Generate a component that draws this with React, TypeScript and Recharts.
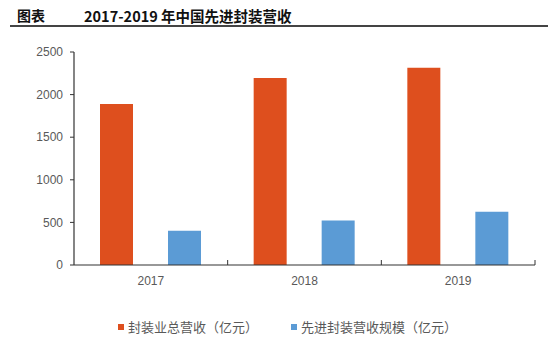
import { BarChart, Bar, XAxis, YAxis } from 'recharts';

// 2017-2019 China packaging revenue (亿元)
const years = ['2017', '2018', '2019'];
const totalRevenue = [1890, 2195, 2315];
const advancedRevenue = [403, 522, 624];
const yTicks = [0, 500, 1000, 1500, 2000, 2500];

const ORANGE = '#DE4F1E';
const BLUE = '#5B9BD5';
const INK = '#595959';
const CJK = '"Noto Sans CJK SC", "Noto Sans", sans-serif';
const LATIN = 'Liberation Sans, Arial, sans-serif';

const W = 550;
const H = 346;
const M = { top: 52, right: 15, bottom: 56, left: 0 };
const Y_W = 74;
const TICK_SIZE = 6;
const TICK_MARGIN = 5;
const band = (W - M.right - M.left - Y_W) / years.length;

const rows = years.map((y, i) => ({ year: y, total: totalRevenue[i], advanced: advancedRevenue[i] }));

// year label plus a small upward tick at the right edge of each category
function YearTick(props: any) {
  const { x, y, payload } = props;
  const axisY = y - TICK_SIZE - TICK_MARGIN;
  const right = x + band / 2;
  return (
    <g>
      <line x1={right} x2={right} y1={axisY} y2={axisY - 5} stroke="#333" />
      <text x={x} y={y} dy="0.71em" textAnchor="middle" fontSize={12} fill={INK} fontFamily={LATIN}>
        {payload.value}
      </text>
    </g>
  );
}

export default function App() {
  return (
    <div style={{ position: 'fixed', left: 0, top: 0, width: W, height: H, background: '#fff', overflow: 'hidden' }}>
      {/* title bar */}
      <div style={{ position: 'absolute', left: 17, top: 5, fontFamily: CJK, fontWeight: 700, fontSize: 14, color: '#111', whiteSpace: 'nowrap' }}>
        图表
      </div>
      <div style={{ position: 'absolute', left: 84, top: 5, fontFamily: CJK, fontWeight: 700, fontSize: 14.5, color: '#111', whiteSpace: 'nowrap' }}>
        2017-2019 年中国先进封装营收
      </div>
      <div style={{ position: 'absolute', left: 10, top: 25, width: 538, height: 2, background: '#444' }} />

      <div style={{ position: 'absolute', left: 0, top: 0 }}>
        <BarChart width={W} height={H} data={rows} margin={M} barCategoryGap={26} barGap={35}>
          <XAxis
            dataKey="year"
            height={25}
            tickLine={false}
            tickSize={TICK_SIZE}
            tickMargin={TICK_MARGIN}
            axisLine={{ stroke: '#333', strokeWidth: 1.2 }}
            tick={<YearTick />}
          />
          <YAxis
            width={Y_W}
            domain={[0, 2500]}
            ticks={yTicks}
            tickSize={4}
            tickMargin={7}
            axisLine={{ stroke: '#333', strokeWidth: 1.2 }}
            tickLine={{ stroke: '#333' }}
            tick={{ fontSize: 12, fill: INK, fontFamily: LATIN }}
          />
          <Bar dataKey="total" fill={ORANGE} barSize={33} isAnimationActive={false} />
          <Bar dataKey="advanced" fill={BLUE} barSize={33} isAnimationActive={false} />
        </BarChart>
      </div>

      {/* legend */}
      <div style={{ position: 'absolute', left: 118, top: 317, display: 'flex', alignItems: 'center', fontFamily: CJK, fontSize: 13, color: INK, whiteSpace: 'nowrap' }}>
        <span style={{ width: 6, height: 6, background: ORANGE, marginRight: 4 }} />
        <span>封装业总营收（亿元）</span>
        <span style={{ width: 6, height: 6, background: BLUE, marginLeft: 33, marginRight: 4 }} />
        <span>先进封装营收规模（亿元）</span>
      </div>
    </div>
  );
}
